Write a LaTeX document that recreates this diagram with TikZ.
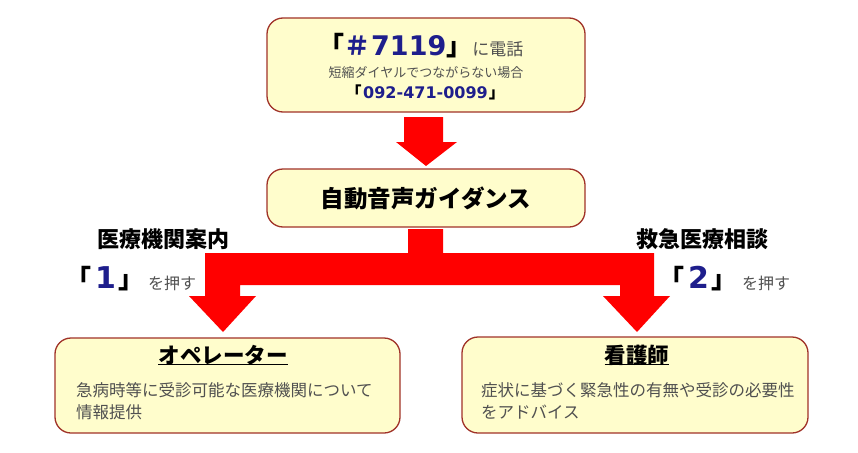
\documentclass[tikz,border=0pt]{standalone}
\usepackage{fontspec}
\setmainfont{Noto Sans CJK JP}
\newfontfamily\dvs{DejaVu Sans}
\definecolor{boxfill}{RGB}{255,253,204}
\definecolor{boxline}{RGB}{160,50,40}
\definecolor{arrowred}{RGB}{255,0,0}
\definecolor{navy}{RGB}{30,30,140}
\definecolor{bodygray}{RGB}{80,80,80}
\tikzset{
  rbox/.style={draw=boxline, line width=1.3pt, fill=boxfill, rounded corners=16pt},
  redarrow/.style={fill=arrowred, draw=none},
  txt/.style={inner sep=0pt, anchor=center},
  bodytxt/.style={inner sep=0pt, anchor=base west, font=\fontsize{16.5}{16.5}\selectfont, text=bodygray},
  presstxt/.style={inner sep=0pt, anchor=base west, font=\fontsize{16}{16}\selectfont, text=bodygray},
  keytxt/.style={inner sep=0pt, anchor=base west, font=\fontsize{26}{26}\bfseries},
  headtxt/.style={inner sep=0pt, anchor=center, font=\fontsize{22}{22}\bfseries},
  uline/.style={line width=1pt},
}
\newcommand{\bigdigit}[1]{{\dvs\bfseries\fontsize{30}{30}\selectfont\textcolor{navy}{#1}}}
\newcommand{\closeq}{\makebox[0.55em][l]{」}}
\begin{document}
\begin{tikzpicture}[x=1pt,y=-1pt]
\useasboundingbox (0,0) rectangle (858,452);
\fill[white] (0,0) rectangle (858,452);
% boxes
\draw[rbox] (267,18) rectangle (585,112);
\draw[rbox] (267,169) rectangle (585,227);
\draw[rbox] (55,338) rectangle (400,433);
\draw[rbox] (462,337) rectangle (808,433);
% arrow 1
\fill[redarrow] (404,117) -- (443,117) -- (443,142) -- (457,142) -- (426,166) -- (396,142) -- (404,142) -- cycle;
% branching arrow
\fill[redarrow] (408,229) -- (443,229) -- (443,253) -- (654,253) -- (654,296) -- (670,296) -- (637,332)
  -- (603,296) -- (620,296) -- (620,285) -- (240,285) -- (240,296) -- (256,296) -- (223,332)
  -- (189,296) -- (205,296) -- (205,253) -- (408,253) -- cycle;
% top box text
\node[keytxt, text=black] (num) at (318,56)
  {「\textcolor{navy}{＃\kern1pt{\dvs\bfseries\fontsize{27}{27}\selectfont 7119}}」{\mdseries\fontsize{17}{17}\selectfont\textcolor{bodygray}{に電話}}};
\node[txt, font=\fontsize{13}{13}\selectfont, text=bodygray] (alt) at (426,73) {短縮ダイヤルでつながらない場合};
\node[inner sep=0pt, anchor=base west, font=\fontsize{16}{16}\bfseries] (tel) at (345.5,98)
  {「\kern1.5pt{\dvs\bfseries\textcolor{navy}{092-471-0099}}\kern1pt」};
% second box
\node[txt, font=\fontsize{23.5}{23.5}\bfseries] (guide) at (426,198) {自動音声ガイダンス};
% branch labels
\node[headtxt] (lab1) at (163,239) {医療機関案内};
\node[keytxt] (k1) at (65,288) {「\kern4pt\bigdigit{1}\kern2pt\closeq};
\node[presstxt] (p1) at (148,289) {を押す};
\node[headtxt] (lab2) at (702,239) {救急医療相談};
\node[keytxt] (k2) at (658,288) {「\kern4pt\bigdigit{2}\kern2pt\closeq};
\node[presstxt] (p2) at (742,289) {を押す};
% left box
\coordinate (ul) at (0,364.5);
\node[txt, font=\fontsize{21.5}{21.5}\bfseries] (op) at (223,355) {オペレーター};
\draw[uline] (op.west |- ul) -- (op.east |- ul);
\node[bodytxt] (opt) at (76,396) {急病時等に受診可能な医療機関について};
\node[bodytxt] (opt2) at (76,418) {情報提供};
% right box
\node[txt, font=\fontsize{21.5}{21.5}\bfseries] (ns) at (637,355) {看護師};
\draw[uline] (ns.west |- ul) -- (ns.east |- ul);
\node[bodytxt] (nst) at (481,396) {症状に基づく緊急性の有無や受診の必要性};
\node[bodytxt] (nst2) at (481,418) {をアドバイス};
\end{tikzpicture}
\end{document}
